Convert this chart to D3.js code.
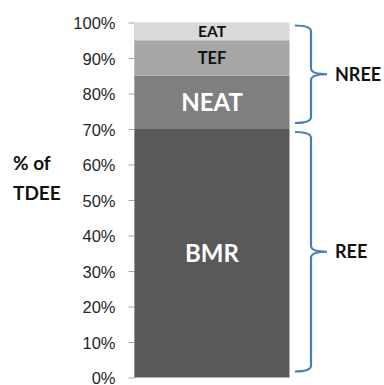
<!DOCTYPE html>
<html>
<head>
<meta charset="utf-8">
<script src="https://cdn.jsdelivr.net/npm/d3@7"></script>
<style>
  body { margin: 0; background: #fff; }
  svg { display: block; font-family: Lato, "Open Sans", sans-serif; }
  .axis path, .axis line { stroke: #a6a6a6; }
  .axis text { fill: #262626; font-size: 16.5px; }
</style>
</head>
<body>
<svg id="chart" width="384" height="385"></svg>
<script>
// stacked segments, bottom to top (percent of TDEE)
var segments = ['BMR', 'NEAT', 'TEF', 'EAT'];
var values = [70, 15, 10, 5];
var fills = ['#595959', '#7f7f7f', '#a6a6a6', '#d9d9d9'];
var labelColors = ['#fff', '#fff', '#111', '#111'];
var labelSizes = [24, 24, 16.5, 15.5];

// groups shown with braces on the right
var groups = ['REE', 'NREE'];
var groupStart = [0, 70];
var groupEnd = [70, 100];

var yTicks = [0, 10, 20, 30, 40, 50, 60, 70, 80, 90, 100];

var svg = d3.select('#chart');

var y = d3.scaleLinear().domain([0, 100]).range([377.5, 22.5]);
var x = d3.scaleBand().domain(['TDEE']).range([134.5, 289.5]).padding(0);

var yAxis = d3.axisLeft(y)
    .tickValues(yTicks)
    .tickFormat(function (d) { return d + '%'; })
    .tickSize(6)
    .tickSizeOuter(0)
    .tickPadding(13);

var gAxis = svg.append('g')
    .attr('class', 'axis')
    .attr('transform', 'translate(134.5,0)')
    .call(yAxis);
gAxis.selectAll('text').attr('dy', '0.37em');

// stack
var stacked = [];
var acc = 0;
values.forEach(function (v, i) {
  stacked.push({ name: segments[i], y0: acc, y1: acc + v, i: i });
  acc += v;
});

svg.selectAll('rect.seg')
    .data(stacked)
  .enter().append('rect')
    .attr('class', 'seg')
    .attr('x', x('TDEE'))
    .attr('width', x.bandwidth())
    .attr('y', function (d) { return y(d.y1); })
    .attr('height', function (d) { return y(d.y0) - y(d.y1); })
    .attr('fill', function (d) { return fills[d.i]; });

svg.selectAll('text.seg')
    .data(stacked)
  .enter().append('text')
    .attr('class', 'seg')
    .attr('x', x('TDEE') + x.bandwidth() / 2)
    .attr('y', function (d) { return (y(d.y0) + y(d.y1)) / 2; })
    .attr('dy', '0.36em')
    .attr('text-anchor', 'middle')
    .attr('font-weight', 'bold')
    .attr('font-size', function (d) { return labelSizes[d.i] + 'px'; })
    .attr('fill', function (d) { return labelColors[d.i]; })
    .text(function (d) { return d.name; });

// braces
var bx0 = 295, bx1 = 311, bx2 = 327, r = 6;
function brace(top, bot) {
  var ym = (top + bot) / 2;
  return 'M' + bx0 + ',' + top +
    ' Q' + bx1 + ',' + top + ' ' + bx1 + ',' + (top + r) +
    ' L' + bx1 + ',' + (ym - r) +
    ' Q' + bx1 + ',' + ym + ' ' + bx2 + ',' + ym +
    ' Q' + bx1 + ',' + ym + ' ' + bx1 + ',' + (ym + r) +
    ' L' + bx1 + ',' + (bot - r) +
    ' Q' + bx1 + ',' + bot + ' ' + bx0 + ',' + bot;
}

groups.forEach(function (g, i) {
  var top = y(groupEnd[i]) + 3;
  var bot = y(groupStart[i]) - 6;
  svg.append('path')
      .attr('d', brace(top, bot))
      .attr('fill', 'none')
      .attr('stroke', '#4a7ebb')
      .attr('stroke-width', 2.2);
  svg.append('text')
      .attr('x', 335)
      .attr('y', (top + bot) / 2)
      .attr('dy', '0.36em')
      .attr('font-weight', 'bold')
      .attr('font-size', '18px')
      .attr('fill', '#111')
      .text(g);
});

// y title
var title = svg.append('text')
    .attr('x', 13)
    .attr('font-weight', 'bold')
    .attr('font-size', '19px')
    .attr('fill', '#111');
title.append('tspan').attr('x', 13).attr('y', 170).text('% of');
title.append('tspan').attr('x', 13).attr('y', 200).text('TDEE');
</script>
</body>
</html>
